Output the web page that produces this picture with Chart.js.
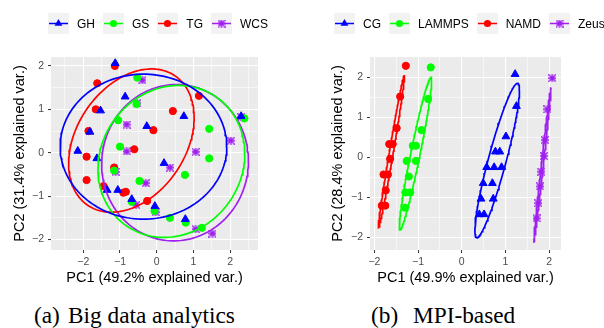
<!DOCTYPE html>
<html>
<head>
<meta charset="utf-8">
<script src="https://cdn.jsdelivr.net/npm/chart.js@4.4.1/dist/chart.umd.min.js"></script>
<style>
  body { margin: 0; width: 604px; height: 328px; background: #fff; position: relative; overflow: hidden;
         font-family: "Liberation Sans", Arial, sans-serif; }
  canvas.cv { position: absolute; top: 0; }
  .legend { position: absolute; top: 13px; height: 21px; display: flex; align-items: center; font-size: 12px; color: #000; }
  .legend canvas { width: 21px; height: 21px; margin-right: 8px; }
  .legend span { margin-right: 8px; }
  .cap { position: absolute; top: 302px; line-height: 26px; font-family: "Liberation Serif", serif; font-size: 23.3px; color: #000; white-space: nowrap; }
</style>
</head>
<body>
<canvas id="chartA" class="cv" width="300" height="300" style="left:0"></canvas>
<canvas id="chartB" class="cv" width="304" height="300" style="left:300px"></canvas>
<div id="legA" class="legend" style="left:48px"></div>
<div id="legB" class="legend" style="left:334px"></div>
<div class="cap" style="left:34px">(a)</div>
<div class="cap" style="left:68px">Big data analytics</div>
<div class="cap" style="left:371px">(b)</div>
<div class="cap" style="left:413px">MPI-based</div>
<script>
// ---- panel (a): big data analytics ----
const groupsA = ['GH', 'GS', 'TG', 'WCS'];
const ghPC1 = [-1.13, -0.86, -1.53, 0.74, 2.3, -1.82, -0.27, -2.15, -1.63, 0.2, -1.35, -1.06, -0.68, -0.05, 0.78];
const ghPC2 = [2.06, 1.29, 0.97, 0.84, 0.84, 0.48, 0.61, 0.04, -0.13, -0.24, -0.86, -0.86, -1.07, -1.23, -1.53];
const gsPC1 = [-0.53, -0.55, -1.05, 1.43, 2.39, -1.0, 1.43, -1.16, 0.77, -0.47, -0.68, -0.06, 0.36, 0.79, 1.23];
const gsPC2 = [1.73, 1.12, 0.75, 0.55, 0.79, 0.14, -0.13, -0.41, -0.51, -0.65, -1.13, -1.34, -1.5, -1.61, -1.73];
const tgPC1 = [-1.14, -1.62, 1.15, -1.66, 0.44, -1.86, -0.09, -0.61, -1.91, -1.16, -1.91, -1.45, -0.91, -0.84, -0.26];
const tgPC2 = [2.0, 1.6, 1.31, 1.0, 0.96, 0.5, 0.52, 0.08, -0.09, -0.34, -0.63, -0.77, -0.92, -0.9, -1.11];
const wcsPC1 = [-0.39, -0.53, -0.82, -0.82, 1.06, 2.02, 2.3, 0.36, -1.12, -0.3, -0.56, -0.03, 1.06, 1.52];
const wcsPC2 = [1.67, 1.14, 0.65, 0.03, 0.02, 0.28, 0.82, -0.34, -0.44, -0.7, -1.2, -1.37, -1.76, -1.86];
// ellipses per group: centre, half width, half height, tilt
const ellA_cx = [-0.36, 0.4, -0.69, 0.5];
const ellA_cy = [0.14, -0.2, 0.28, -0.23];
const ellA_wx = [2.27, 2.0, 1.71, 2.0];
const ellA_wy = [1.67, 1.75, 1.65, 1.8];
const ellA_r = [0.0, 0.1, 0.32, 0.02];
const xTicksA = [-2.5, -2, -1.5, -1, -0.5, 0, 0.5, 1, 1.5, 2, 2.5];
const yTicksA = [-2, -1.5, -1, -0.5, 0, 0.5, 1, 1.5, 2];

// ---- panel (b): MPI-based ----
const groupsB = ['CG', 'LAMMPS', 'NAMD', 'Zeus'];
const cgPC1 = [1.22, 1.25, 1.01, 0.77, 0.87, 0.57, 0.74, 0.91, 0.49, 0.7, 0.44, 0.72, 0.4, 0.51];
const cgPC2 = [2.08, 1.28, 0.52, 0.14, 0.14, -0.25, -0.25, -0.25, -0.65, -0.65, -1.04, -1.04, -1.43, -1.43];
const lamPC1 = [-0.71, -0.77, -0.92, -1.12, -1.05, -1.26, -1.05, -1.21, -1.29, -1.18, -1.3];
const lamPC2 = [2.25, 1.46, 0.68, 0.29, 0.29, -0.09, -0.09, -0.48, -0.88, -0.88, -1.26];
const namdPC1 = [-1.28, -1.41, -1.49, -1.66, -1.58, -1.64, -1.79, -1.69, -1.74, -1.83, -1.75];
const namdPC2 = [2.29, 1.52, 0.73, 0.33, 0.33, -0.04, -0.43, -0.43, -0.83, -1.21, -1.21];
const zeusPC1 = [2.07, 1.96, 1.9, 1.88, 1.82, 1.79, 1.75, 1.71];
const zeusPC2 = [1.98, 1.2, 0.43, 0.03, -0.36, -0.73, -1.15, -1.53];
const ellB_cx = [0.81, -1.06, -1.61, 1.845];
const ellB_cy = [-0.08, 0.09, 0.14, -0.18];
const ellB_wx = [0.51, 0.37, 0.3, 0.195];
const ellB_wy = [1.93, 1.91, 1.92, 1.93];
const ellB_r = [0.91, 0.957, 0.989, 0.993];
const xTicksB = [-2, -1.5, -1, -0.5, 0, 0.5, 1, 1.5, 2];
const yTicksB = [-2, -1.5, -1, -0.5, 0, 0.5, 1, 1.5, 2];

const colors = ['#0000ff', '#00ff00', '#ff0000', '#a020f0'];

// purple asterisk-like marker
function starMarker(color) {
  const c = document.createElement('canvas');
  c.width = 8; c.height = 8;
  const g = c.getContext('2d');
  g.fillStyle = color; g.strokeStyle = color; g.lineWidth = 1.3;
  g.fillRect(1.8, 1.8, 4.4, 4.4);
  g.beginPath();
  g.moveTo(0.3, 0.3); g.lineTo(7.7, 7.7);
  g.moveTo(7.7, 0.3); g.lineTo(0.3, 7.7);
  g.moveTo(4, 0); g.lineTo(4, 8);
  g.moveTo(0, 4); g.lineTo(8, 4);
  g.stroke();
  return c;
}
const star = starMarker(colors[3]);
const shapes = ['triangle', 'circle', 'circle', star];
const radii = [4.5, 3.6, 3.6, 4];

function ellipse(cx, cy, wx, wy, r) {
  const pts = [];
  const s = Math.sqrt(1 - r * r);
  for (let i = 0; i <= 160; i++) {
    const t = i / 160 * 2 * Math.PI;
    pts.push({x: cx + wx * Math.cos(t), y: cy + wy * (r * Math.cos(t) + s * Math.sin(t))});
  }
  return pts;
}

const zip = (xs, ys) => xs.map((x, i) => ({x: x, y: ys[i]}));

function buildDatasets(series, ell) {
  const ds = [];
  series.forEach((s, i) => {
    ds.push({
      data: zip(s[0], s[1]),
      pointStyle: shapes[i], pointRadius: radii[i],
      backgroundColor: colors[i], borderColor: colors[i], borderWidth: 1,
      order: 2
    });
  });
  for (let i = 0; i < 4; i++) {
    ds.push({
      data: ellipse(ell[0][i], ell[1][i], ell[2][i], ell[3][i], ell[4][i]),
      showLine: true, pointRadius: 0, borderColor: colors[i], borderWidth: 1.7,
      fill: false, tension: 0, order: 1
    });
  }
  return ds;
}

const panelBg = {
  id: 'panelBg',
  beforeDraw(chart) {
    const {ctx, chartArea: a} = chart;
    ctx.save();
    ctx.fillStyle = '#ebebeb';
    ctx.fillRect(a.left, a.top, a.right - a.left, a.bottom - a.top);
    ctx.restore();
  }
};

const isMajor = v => Math.abs(v - Math.round(v)) < 1e-9;
const tickText = v => isMajor(v) ? (v < 0 ? '\u2212' + Math.abs(v) : String(v)) : '';

function axis(min, max, ticks, title, horizontal, size) {
  return {
    type: 'linear', min: min, max: max,
    afterBuildTicks: sc => { sc.ticks = ticks.map(v => ({value: v})); },
    afterFit: sc => { if (horizontal) sc.height = size; else sc.width = size; },
    border: {display: false},
    grid: {
      color: '#ffffff',
      lineWidth: c => isMajor(c.tick.value) ? 1.1 : 0.55,
      tickColor: c => isMajor(c.tick.value) ? '#333333' : 'rgba(0,0,0,0)',
      tickLength: 3, tickWidth: 1
    },
    ticks: {
      autoSkip: false, maxRotation: 0, padding: horizontal ? 3 : 4,
      color: '#4d4d4d', font: {family: 'Liberation Sans', size: 10.5},
      callback: v => tickText(v)
    },
    title: {
      display: true, text: title, color: '#000',
      font: {family: 'Liberation Sans', size: 14.5},
      padding: horizontal ? {top: 0, bottom: 0} : {top: 11, bottom: 0}
    }
  };
}

function makeChart(id, datasets, xs, ys, pad) {
  return new Chart(document.getElementById(id), {
    type: 'scatter',
    data: {datasets: datasets},
    options: {
      responsive: false, animation: false, devicePixelRatio: 1,
      layout: {padding: pad},
      plugins: {legend: {display: false}, tooltip: {enabled: false}},
      scales: {x: xs, y: ys}
    },
    plugins: [panelBg]
  });
}

makeChart('chartA',
  buildDatasets([[ghPC1, ghPC2], [gsPC1, gsPC2], [tgPC1, tgPC2], [wcsPC1, wcsPC2]],
                [ellA_cx, ellA_cy, ellA_wx, ellA_wy, ellA_r]),
  axis(-2.88, 2.76, xTicksA, 'PC1 (49.2% explained var.)', true, 37),
  axis(-2.24, 2.205, yTicksA, 'PC2 (31.4% explained var.)', false, 51),
  {top: 57, left: 0, right: 42, bottom: 13});

makeChart('chartB',
  buildDatasets([[cgPC1, cgPC2], [lamPC1, lamPC2], [namdPC1, namdPC2], [zeusPC1, zeusPC2]],
                [ellB_cx, ellB_cy, ellB_wx, ellB_wy, ellB_r]),
  axis(-2.1, 2.27, xTicksB, 'PC1 (49.9% explained var.)', true, 37),
  axis(-2.32, 2.51, yTicksB, 'PC2 (28.4% explained var.)', false, 52),
  {top: 57, left: 18, right: 43, bottom: 13});

// legend keys, ggplot style
function drawMarker(g, i, x, y) {
  g.fillStyle = colors[i];
  if (shapes[i] === 'triangle') {
    const r = radii[i];
    g.beginPath();
    g.moveTo(x, y - r);
    g.lineTo(x + r * 0.866, y + r * 0.5);
    g.lineTo(x - r * 0.866, y + r * 0.5);
    g.closePath(); g.fill();
  } else if (shapes[i] === 'circle') {
    g.beginPath(); g.arc(x, y, radii[i], 0, 2 * Math.PI); g.fill();
  } else {
    g.drawImage(star, x - 4, y - 4);
  }
}

function buildLegend(id, names) {
  const box = document.getElementById(id);
  names.forEach((name, i) => {
    const c = document.createElement('canvas');
    c.width = 21; c.height = 21;
    const g = c.getContext('2d');
    g.fillStyle = '#f2f2f2'; g.fillRect(0, 0, 21, 21);
    g.strokeStyle = colors[i]; g.lineWidth = 1.5;
    g.beginPath(); g.moveTo(1, 10.5); g.lineTo(20, 10.5); g.stroke();
    drawMarker(g, i, 10.5, 10.5);
    const s = document.createElement('span');
    s.textContent = name;
    box.appendChild(c); box.appendChild(s);
  });
}
buildLegend('legA', groupsA);
buildLegend('legB', groupsB);
</script>
</body>
</html>
